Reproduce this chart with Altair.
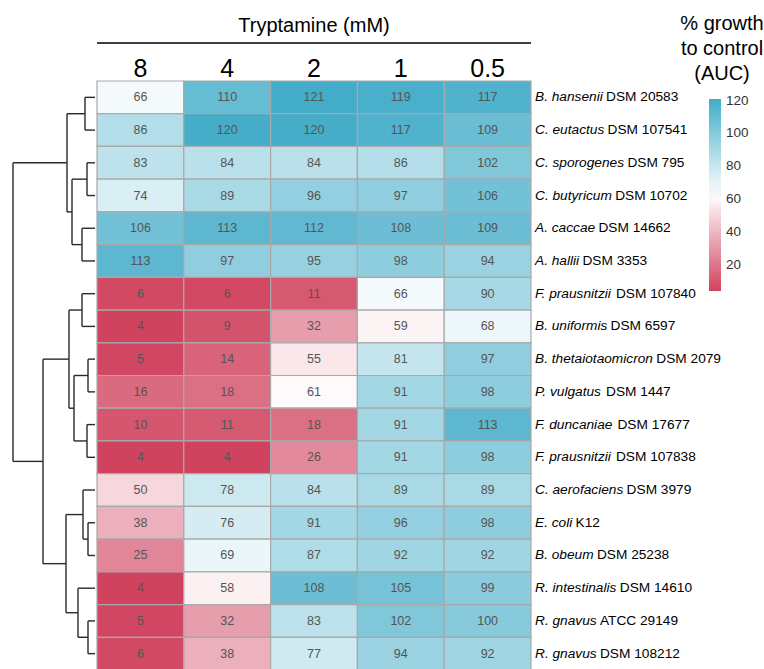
import altair as alt
import pandas as pd

# ---------------- data ----------------
concentrations = ["8", "4", "2", "1", "0.5"]
species = ["B. hansenii", "C. eutactus", "C. sporogenes", "C. butyricum", "A. caccae",
           "A. hallii", "F. prausnitzii", "B. uniformis", "B. thetaiotaomicron", "P. vulgatus",
           "F. duncaniae", "F. prausnitzii", "C. aerofaciens", "E. coli", "B. obeum",
           "R. intestinalis", "R. gnavus", "R. gnavus"]
strains = ["DSM 20583", "DSM 107541", "DSM 795", "DSM 10702", "DSM 14662",
           "DSM 3353", "DSM 107840", "DSM 6597", "DSM 2079", "DSM 1447",
           "DSM 17677", "DSM 107838", "DSM 3979", "K12", "DSM 25238",
           "DSM 14610", "ATCC 29149", "DSM 108212"]
growth = [
    [66, 110, 121, 119, 117],
    [86, 120, 120, 117, 109],
    [83, 84, 84, 86, 102],
    [74, 89, 96, 97, 106],
    [106, 113, 112, 108, 109],
    [113, 97, 95, 98, 94],
    [6, 6, 11, 66, 90],
    [4, 9, 32, 59, 68],
    [5, 14, 55, 81, 97],
    [16, 18, 61, 91, 98],
    [10, 11, 18, 91, 113],
    [4, 4, 26, 91, 98],
    [50, 78, 84, 89, 89],
    [38, 76, 91, 96, 98],
    [25, 69, 87, 92, 92],
    [4, 58, 108, 105, 99],
    [5, 32, 83, 102, 100],
    [6, 38, 77, 94, 92],
]
# dendrogram merges: (left, right, height); L# = leaf row, c# = earlier merge
merges = [
    ("L0", "L1", 10), ("L2", "L3", 8), ("L4", "L5", 13), ("c1", "c2", 23), ("c0", "c3", 28),
    ("L6", "L7", 13), ("L8", "L9", 7), ("L10", "L11", 8), ("c6", "c7", 21), ("c5", "c8", 26),
    ("L13", "L14", 7), ("L12", "c10", 12), ("L16", "L17", 7), ("L15", "c12", 17),
    ("c11", "c13", 29), ("c9", "c14", 52), ("c4", "c15", 82),
]
col_title = "Tryptamine (mM)"
legend_title = "% growth\nto control\n(AUC)"
legend_ticks = [20, 40, 60, 80, 100, 120]

# ---------------- build tables ----------------
FONT = "Liberation Sans"
LABEL_SIZE = 13.7
row_keys = [f"{s} {t}" for s, t in zip(species, strains)]
n = len(row_keys)

recs = []
for i, key in enumerate(row_keys):
    for j, c in enumerate(concentrations):
        recs.append({"row": key, "conc": c, "value": growth[i][j]})
df = pd.DataFrame(recs)

# Arial / Liberation Sans advance widths (1/1000 em) for measuring the italic part
CW = {'A': 667, 'B': 667, 'C': 722, 'E': 667, 'F': 611, 'P': 667, 'R': 722,
      'a': 556, 'b': 556, 'c': 500, 'd': 556, 'e': 556, 'f': 278, 'g': 556, 'h': 556,
      'i': 222, 'l': 222, 'm': 833, 'n': 556, 'o': 556, 'p': 556, 'r': 333, 's': 500,
      't': 278, 'u': 556, 'v': 500, 'y': 500, 'z': 500, '.': 278, ' ': 278}


def text_w(s, size):
    return sum(CW.get(ch, 556) for ch in s) * size / 1000.0


LAB_X = 438
lab_df = pd.DataFrame({
    "row": row_keys, "sp": species, "st": strains,
    "nx": [LAB_X + text_w(s, LABEL_SIZE) + 0.24 * LABEL_SIZE for s in species],
})

pos = {f"L{i}": i + 0.5 for i in range(n)}
hgt = {f"L{i}": 0 for i in range(n)}
segs = []
for k, (a, b, h) in enumerate(merges):
    pa, pb = pos[a], pos[b]
    segs.append({"x1": h, "x2": h, "y1": pa, "y2": pb})
    segs.append({"x1": hgt[a], "x2": h, "y1": pa, "y2": pa})
    segs.append({"x1": hgt[b], "x2": h, "y1": pb, "y2": pb})
    pos[f"c{k}"] = (pa + pb) / 2
    hgt[f"c{k}"] = h
seg_df = pd.DataFrame(segs)
max_h = max(m[2] for m in merges)

vals = [v for r in growth for v in r]
vmin, vmax = min(vals), max(vals)
vmid = (vmin + vmax) / 2

# ---------------- charts ----------------
W, H = 434, 589

dendro = alt.Chart(seg_df).mark_rule(color="#2a2a2a", strokeWidth=1.4).encode(
    x=alt.X("x1:Q", scale=alt.Scale(domain=[0, max_h], reverse=True, nice=False, zero=False), axis=None),
    x2="x2:Q",
    y=alt.Y("y1:Q", scale=alt.Scale(domain=[0, n], reverse=True, nice=False, zero=False), axis=None),
    y2="y2:Q",
).properties(width=82, height=H)

x_enc = alt.X("conc:N", sort=concentrations,
              scale=alt.Scale(paddingInner=0, paddingOuter=0),
              axis=alt.Axis(orient="top", title=None, labelAngle=0, labelFontSize=25, labelFont=FONT,
                            labelColor="black", domain=False, ticks=False, tickSize=0,
                            labelPadding=5, labelBaseline="alphabetic"))
y_enc = alt.Y("row:N", sort=row_keys, scale=alt.Scale(paddingInner=0, paddingOuter=0), axis=None)

rects = alt.Chart(df).mark_rect(stroke="#a9a9a9", strokeWidth=1.2).encode(
    x=x_enc, y=y_enc,
    color=alt.Color("value:Q",
                    scale=alt.Scale(domain=[vmin, vmid, vmax], range=["#d0435f", "#ffffff", "#43acc8"],
                                    interpolate="rgb"),
                    legend=alt.Legend(orient="none", legendX=696, legendY=18, direction="vertical",
                                      gradientLength=192, gradientThickness=12, values=legend_ticks,
                                      labelFontSize=13.5, labelFont=FONT, labelColor="#333",
                                      labelOffset=5, gradientStrokeWidth=0, title=None)),
)
cell_text = alt.Chart(df).mark_text(font=FONT, fontSize=12.5, color="#555555").encode(
    x=alt.X("conc:N", sort=concentrations), y=alt.Y("row:N", sort=row_keys), text="value:Q")

lab1 = alt.Chart(lab_df).mark_text(align="left", baseline="middle", font=FONT, fontSize=LABEL_SIZE,
                                   fontStyle="italic", color="black").encode(
    y=alt.Y("row:N", sort=row_keys), x=alt.value(LAB_X), text="sp:N")
lab2 = alt.Chart(lab_df).mark_text(align="left", baseline="middle", font=FONT, fontSize=LABEL_SIZE,
                                   color="black").encode(
    y=alt.Y("row:N", sort=row_keys), x=alt.X("nx:Q", scale=None, axis=None), text="st:N")

deco_df = pd.DataFrame({"t": [col_title], "lt": [legend_title]})
title_txt = alt.Chart(deco_df).mark_text(font=FONT, fontSize=20, align="center", baseline="alphabetic",
                                         color="black").encode(
    x=alt.value(W / 2), y=alt.value(-49), text="t:N")
title_rule = alt.Chart(deco_df).mark_rule(color="black", strokeWidth=1.3).encode(
    x=alt.value(0), x2=alt.value(W), y=alt.value(-38))
leg_title = alt.Chart(deco_df).mark_text(font=FONT, fontSize=20, align="center", baseline="alphabetic",
                                         lineBreak="\n", lineHeight=25, color="black").encode(
    x=alt.value(625), y=alt.value(-51), text="lt:N")

heat = alt.layer(rects, cell_text, lab1, lab2, title_txt, title_rule, leg_title).properties(width=W, height=H)

chart = alt.hconcat(dendro, heat, spacing=0).configure_view(strokeWidth=0).properties(
    padding={"left": 12, "top": 14, "right": 0, "bottom": 0})

chart.save("out.html", embed_options={"renderer": "svg", "actions": False})
